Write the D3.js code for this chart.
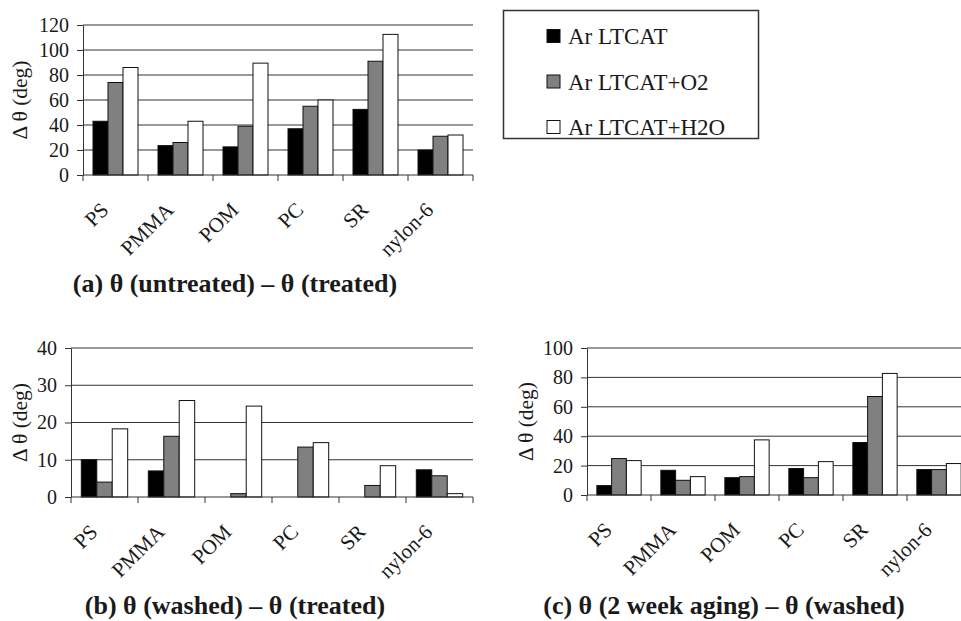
<!DOCTYPE html>
<html>
<head>
<meta charset="utf-8">
<script src="https://cdn.jsdelivr.net/npm/d3@7"></script>
<style>
  html, body { margin: 0; padding: 0; background: #fff; }
  svg { display: block; }
  svg text { font-family: "Liberation Serif", "Times New Roman", serif; }
</style>
</head>
<body>
<div id="chart"></div>
<script>
// contact angle changes, three panels of grouped bars

const categories = ["PS", "PMMA", "POM", "PC", "SR", "nylon-6"];
const seriesNames = ["Ar LTCAT", "Ar LTCAT+O2", "Ar LTCAT+H2O"];
const seriesFills = ["#000000", "#808080", "#ffffff"];

// (a) untreated - treated
const untreatedLtcat = [43, 23.5, 22.5, 37, 52.5, 20];
const untreatedO2 = [74, 26, 39, 55, 91, 31];
const untreatedH2O = [86, 43, 89.5, 60, 112.5, 32];

// (b) washed - treated
const washedLtcat = [10, 7, 0, 0, 0, 7.3];
const washedO2 = [4, 16.3, 0.9, 13.4, 3.1, 5.7];
const washedH2O = [18.3, 25.9, 24.4, 14.6, 8.4, 0.9];

// (c) 2 week aging - washed
const agingLtcat = [6.4, 16.8, 11.8, 18, 35.7, 17.3];
const agingO2 = [24.8, 10, 12.5, 11.8, 67, 17.3];
const agingH2O = [23.4, 12.5, 37.5, 22.7, 82.7, 21.4];

const ticksA = [0, 20, 40, 60, 80, 100, 120];
const ticksB = [0, 10, 20, 30, 40];
const ticksC = [0, 20, 40, 60, 80, 100];

const titles = [
  "(a) \u03b8 (untreated) \u2013 \u03b8 (treated)",
  "(b) \u03b8 (washed) \u2013 \u03b8 (treated)",
  "(c) \u03b8 (2 week aging) \u2013 \u03b8 (washed)"
];

const width = 961, height = 621;
const ink = "#1a1a1a";
const serif = "Liberation Serif, Times New Roman, serif";

const svg = d3.select("#chart").append("svg")
  .attr("width", width)
  .attr("height", height)
  .attr("viewBox", [0, 0, width, height])
  .attr("font-family", serif);

const panels = [
  { left: 83, right: 473, top: 25, bottom: 175, ticks: ticksA,
    data: [untreatedLtcat, untreatedO2, untreatedH2O],
    labelX: 19, title: titles[0], titleX: 235, titleY: 292 },
  { left: 71, right: 473, top: 348, bottom: 497, ticks: ticksB,
    data: [washedLtcat, washedO2, washedH2O],
    labelX: 19, title: titles[1], titleX: 235, titleY: 614 },
  { left: 587, right: 971, top: 348, bottom: 495, ticks: ticksC,
    data: [agingLtcat, agingO2, agingH2O],
    labelX: 525, title: titles[2], titleX: 724, titleY: 614 }
];

panels.forEach(function(p) {
  const g = svg.append("g");

  const x = d3.scaleBand().domain(categories).range([p.left, p.right]).padding(0);
  const inner = d3.scaleBand().domain(seriesNames).range([0, x.bandwidth()])
    .paddingInner(0).paddingOuter(0.667);
  const y = d3.scaleLinear()
    .domain([0, p.ticks[p.ticks.length - 1]])
    .range([p.bottom, p.top]);

  // gridlines
  g.append("g")
    .selectAll("line")
    .data(p.ticks.slice(1))
    .join("line")
    .attr("x1", p.left)
    .attr("x2", p.right)
    .attr("y1", function(d) { return y(d); })
    .attr("y2", function(d) { return y(d); })
    .attr("stroke", "#333")
    .attr("stroke-width", 1);

  // bars
  const rows = [];
  p.data.forEach(function(vals, si) {
    vals.forEach(function(v, ci) {
      if (v > 0) rows.push({ cat: categories[ci], s: seriesNames[si], si: si, v: v });
    });
  });

  g.append("g")
    .selectAll("rect")
    .data(rows)
    .join("rect")
    .attr("x", function(d) { return x(d.cat) + inner(d.s); })
    .attr("y", function(d) { return y(d.v); })
    .attr("width", inner.bandwidth())
    .attr("height", function(d) { return y(0) - y(d.v); })
    .attr("fill", function(d) { return seriesFills[d.si]; })
    .attr("stroke", "#111")
    .attr("stroke-width", 1);

  // y axis
  const yAxis = d3.axisLeft(y)
    .tickValues(p.ticks)
    .tickSize(6)
    .tickSizeOuter(0)
    .tickPadding(8);

  const ya = g.append("g")
    .attr("transform", "translate(" + p.left + ",0)")
    .call(yAxis)
    .attr("font-family", serif)
    .attr("font-size", 20);
  ya.selectAll("path, line").attr("stroke", "#333");
  ya.selectAll("text").attr("fill", ink);

  // x axis baseline and category boundary ticks
  g.append("line")
    .attr("x1", p.left)
    .attr("x2", p.right)
    .attr("y1", y(0))
    .attr("y2", y(0))
    .attr("stroke", "#333");

  const bounds = categories.map(function(c) { return x(c); }).concat([x.range()[1]]);
  g.append("g")
    .selectAll("line")
    .data(bounds)
    .join("line")
    .attr("x1", function(d) { return d; })
    .attr("x2", function(d) { return d; })
    .attr("y1", y(0))
    .attr("y2", y(0) + 6)
    .attr("stroke", "#333");

  // rotated category labels
  g.append("g")
    .selectAll("text")
    .data(categories)
    .join("text")
    .attr("transform", function(d) {
      return "translate(" + (x(d) + x.bandwidth() / 2 - 11) + "," + (y(0) + 31) + ") rotate(-45)";
    })
    .attr("text-anchor", "end")
    .attr("dy", "0.35em")
    .attr("font-size", 21)
    .attr("fill", ink)
    .text(function(d) { return d; });

  // y label
  g.append("text")
    .attr("transform", "translate(" + p.labelX + "," + ((p.top + p.bottom) / 2) + ") rotate(-90)")
    .attr("text-anchor", "middle")
    .attr("dy", "0.35em")
    .attr("font-size", 21.5)
    .attr("fill", ink)
    .text("\u0394 \u03b8 (deg)");

  // panel title
  g.append("text")
    .attr("x", p.titleX)
    .attr("y", p.titleY)
    .attr("text-anchor", "middle")
    .attr("font-size", 26)
    .attr("font-weight", "bold")
    .attr("fill", ink)
    .text(p.title);
});

// legend
const legend = svg.append("g");
legend.append("rect")
  .attr("x", 503.5)
  .attr("y", 10.5)
  .attr("width", 255)
  .attr("height", 128)
  .attr("fill", "#fff")
  .attr("stroke", "#333")
  .attr("stroke-width", 1.5);

const legendY = d3.scalePoint().domain(seriesNames).range([36, 127]);

const items = legend.selectAll("g.item")
  .data(seriesNames)
  .join("g")
  .attr("class", "item")
  .attr("transform", function(d) { return "translate(547," + legendY(d) + ")"; });

items.append("rect")
  .attr("x", 0)
  .attr("y", -6.5)
  .attr("width", 13)
  .attr("height", 13)
  .attr("fill", function(d, i) { return seriesFills[i]; })
  .attr("stroke", "#111");

items.append("text")
  .attr("x", 21)
  .attr("y", 8)
  .attr("font-size", 23)
  .attr("fill", ink)
  .text(function(d) { return d; });
</script>
</body>
</html>
